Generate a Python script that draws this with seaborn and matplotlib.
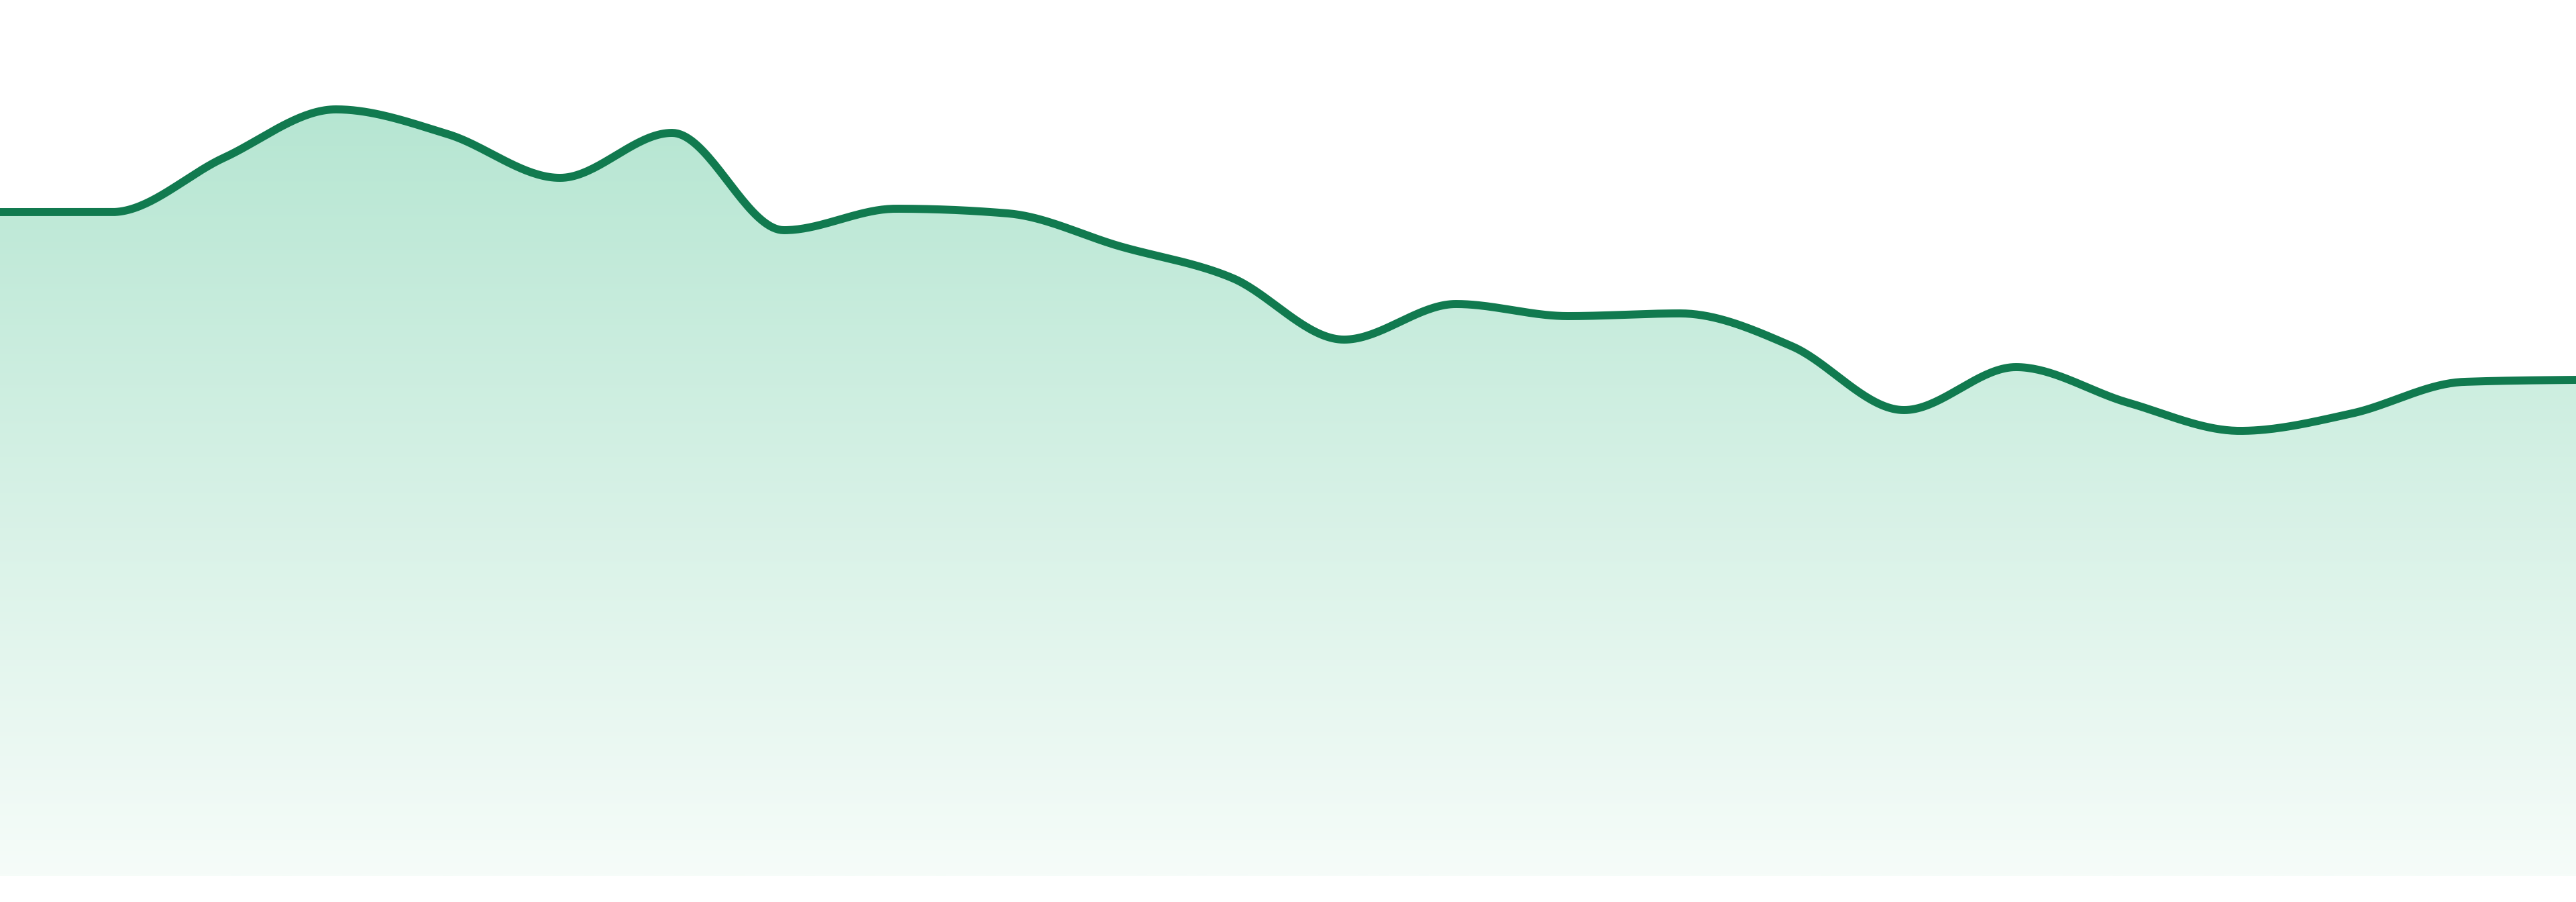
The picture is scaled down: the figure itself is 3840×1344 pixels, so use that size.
import numpy as np
import pandas as pd
import matplotlib
matplotlib.use("Agg")
import matplotlib.pyplot as plt
from matplotlib.colors import LinearSegmentedColormap
import seaborn as sns

# ---- data ----
periods = list(range(24))
values = [98.9, 98.9, 107.0, 114.2, 110.5, 104.0, 110.7, 96.2, 99.4, 98.7,
          93.8, 89.1, 79.9, 85.2, 83.4, 83.8, 78.9, 69.4, 75.8, 70.5,
          66.3, 68.9, 73.6, 73.9]

line_color = "#117a4f"
fill_top = "#b6e6d2"
fill_bottom = "#f6fcf9"


def monotone_x(xs, ys, n=40):
    """d3.curveMonotoneX-style interpolation (Steffen)."""
    xs = np.asarray(xs, float)
    ys = np.asarray(ys, float)
    m = len(xs)
    h = np.diff(xs)
    s = np.diff(ys) / h
    t = np.zeros(m)
    for i in range(1, m - 1):
        h0, h1 = h[i - 1], h[i]
        s0, s1 = s[i - 1], s[i]
        p = (s0 * h1 + s1 * h0) / (h0 + h1)
        t[i] = (np.sign(s0) + np.sign(s1)) * min(abs(s0), abs(s1), 0.5 * abs(p))
    t[0] = (3 * s[0] - t[1]) / 2
    t[-1] = (3 * s[-1] - t[-2]) / 2
    out_x, out_y = [], []
    u = np.linspace(0, 1, n, endpoint=False)
    for i in range(m - 1):
        dx = h[i] / 3
        P0 = (xs[i], ys[i])
        P1 = (xs[i] + dx, ys[i] + dx * t[i])
        P2 = (xs[i + 1] - dx, ys[i + 1] - dx * t[i + 1])
        P3 = (xs[i + 1], ys[i + 1])
        b0 = (1 - u) ** 3
        b1 = 3 * (1 - u) ** 2 * u
        b2 = 3 * (1 - u) * u ** 2
        b3 = u ** 3
        out_x.append(b0 * P0[0] + b1 * P1[0] + b2 * P2[0] + b3 * P3[0])
        out_y.append(b0 * P0[1] + b1 * P1[1] + b2 * P2[1] + b3 * P3[1])
    out_x.append([xs[-1]])
    out_y.append([ys[-1]])
    return np.concatenate(out_x), np.concatenate(out_y)


sx, sy = monotone_x(periods, values)
curve = pd.DataFrame({"period": sx, "value": sy})

sns.set_style("white")
fig = plt.figure(figsize=(38.4, 13.44), dpi=100)
ax = fig.add_axes([0, 39 / 1344, 1, 1305 / 1344])
ax.set_xlim(0, 23)
ax.set_ylim(0, 130.5)
ax.set_axis_off()

# gradient fill under the curve
poly = ax.fill_between(curve["period"], curve["value"], 0, color="none", lw=0)
cmap = LinearSegmentedColormap.from_list("g", [fill_bottom, fill_top])
grad = np.linspace(0, 1, 512).reshape(-1, 1)
im = ax.imshow(grad, cmap=cmap, origin="lower", aspect="auto",
               extent=[0, 23, 0, max(values)], zorder=1)
im.set_clip_path(poly.get_paths()[0], transform=ax.transData)

sns.lineplot(data=curve, x="period", y="value", ax=ax, color=line_color,
             linewidth=8.6, sort=False, zorder=3)
ax.set_xlim(0, 23)
ax.set_ylim(0, 130.5)
ax.set_axis_off()

fig.savefig("out.png", dpi=100, facecolor="white")
